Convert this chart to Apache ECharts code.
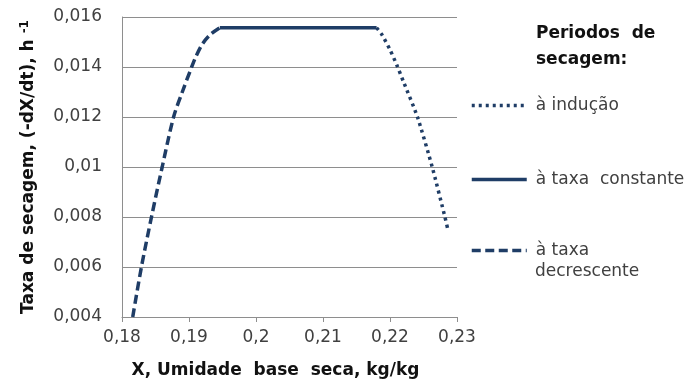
<!DOCTYPE html>
<html>
<head>
<meta charset="utf-8">
<script src="https://cdn.jsdelivr.net/npm/echarts@6/dist/echarts.min.js"></script>
<style>
  html, body { margin: 0; padding: 0; background: #fff; }
  #chart { width: 686px; height: 386px; }
</style>
</head>
<body>
<div id="chart"></div>
<script>
// periodo de taxa decrescente (tracejado)
const decX = [0.1816, 0.1829, 0.1844, 0.1860, 0.1877, 0.1890, 0.1904, 0.1910, 0.1920, 0.1932, 0.1946]
const decY = [0.004, 0.006, 0.008, 0.010, 0.012, 0.0130, 0.0140, 0.01440, 0.01492, 0.01530, 0.01557]
// periodo de taxa constante
const constX = [0.1946, 0.2180]
const constY = [0.01557, 0.01557]
// periodo de inducao (pontilhado)
const indX = [0.2180, 0.2188, 0.2200, 0.2210, 0.2220, 0.2241, 0.2263, 0.2282, 0.2286]
const indY = [0.01557, 0.01529, 0.01469, 0.01409, 0.01342, 0.0120, 0.0100, 0.0080, 0.00754]

const seriesNames = ['à indução', 'à taxa  constante', 'à taxa decrescente']

const pairs = (xs, ys) => xs.map((x, i) => [x, ys[i]])
const fmt = v => String(parseFloat(v.toFixed(4))).replace('.', ',')

const lineColor = '#1f3d66'
const gridColor = '#8e8e8e'
const font = 'DejaVu Sans'

const chart = echarts.init(document.getElementById('chart'))

function legendAt(name, top) {
  return {
    data: [name],
    left: 470,
    top: top,
    padding: 0,
    itemWidth: 55,
    itemHeight: 20,
    itemGap: 0,
    selectedMode: false,
    itemStyle: { opacity: 0 },
    lineStyle: { width: 3.5 },
    formatter: n => n === 'à taxa decrescente' ? 'à taxa' : n,
    textStyle: { fontFamily: font, fontSize: 17, color: '#404040', padding: [0, 0, 0, 4] }
  }
}

chart.setOption({
  animation: false,
  title: {
    text: 'Periodos  de\nsecagem:',
    left: 531,
    top: 16,
    textStyle: { fontFamily: font, fontSize: 17, fontWeight: 'bold', color: '#111', lineHeight: 26 }
  },
  legend: [
    legendAt(seriesNames[0], 97),
    legendAt(seriesNames[1], 171),
    legendAt(seriesNames[2], 242)
  ],
  graphic: [{
    type: 'text',
    left: 535,
    top: 263,
    style: { text: 'decrescente', fontFamily: font, fontSize: 17, fill: '#404040' }
  }],
  grid: { left: 122, right: 229, top: 17, bottom: 69 },
  xAxis: {
    type: 'value',
    min: 0.18,
    max: 0.23,
    interval: 0.01,
    name: 'X, Umidade  base  seca, kg/kg',
    nameLocation: 'middle',
    nameGap: 45,
    nameTextStyle: { fontFamily: font, fontSize: 17, fontWeight: 'bold', color: '#111', padding: [0, 28, 0, 0] },
    axisLine: { show: true, lineStyle: { color: gridColor } },
    axisTick: { show: true, length: 5, lineStyle: { color: gridColor } },
    axisLabel: { formatter: fmt, fontFamily: font, fontSize: 17, color: '#404040', margin: 12 },
    splitLine: { show: false }
  },
  yAxis: {
    type: 'value',
    min: 0.004,
    max: 0.016,
    interval: 0.002,
    name: '{a|Taxa de secagem, (-dX/dt), h }{s|-1}',
    nameLocation: 'middle',
    nameRotate: 90,
    nameGap: 83,
    nameTextStyle: {
      rich: {
        a: { fontFamily: font, fontSize: 17, fontWeight: 'bold', color: '#111' },
        s: { fontFamily: font, fontSize: 12, fontWeight: 'bold', color: '#111', verticalAlign: 'top', padding: [0, 0, 8, 0] }
      }
    },
    axisLine: { show: true, lineStyle: { color: gridColor } },
    axisTick: { show: false },
    axisLabel: { formatter: fmt, fontFamily: font, fontSize: 17, color: '#404040', margin: 20 },
    splitLine: { show: true, lineStyle: { color: gridColor } }
  },
  series: [
    {
      name: seriesNames[0],
      type: 'line',
      data: pairs(indX, indY),
      symbol: 'none',
      smooth: 0.2,
      lineStyle: { color: lineColor, width: 3.5, type: [3, 4], cap: 'butt' },
      itemStyle: { color: lineColor }
    },
    {
      name: seriesNames[1],
      type: 'line',
      data: pairs(constX, constY),
      symbol: 'none',
      lineStyle: { color: lineColor, width: 3.5, type: 'solid' },
      itemStyle: { color: lineColor }
    },
    {
      name: seriesNames[2],
      type: 'line',
      data: pairs(decX, decY),
      symbol: 'none',
      smooth: 0.3,
      lineStyle: { color: lineColor, width: 3.5, type: [9, 4.5] },
      itemStyle: { color: lineColor }
    }
  ]
})
</script>
</body>
</html>
